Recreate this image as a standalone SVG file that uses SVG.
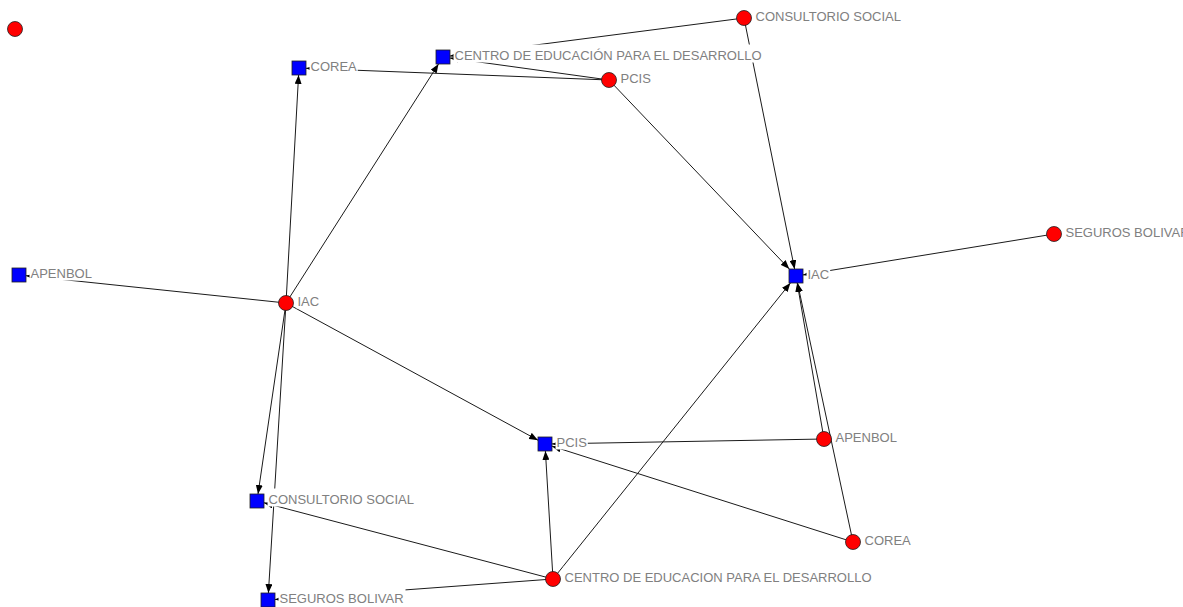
<svg xmlns="http://www.w3.org/2000/svg" width="1183" height="607" viewBox="0 0 1183 607">
<style>
.e{stroke:#1a1a1a;stroke-width:1;fill:none;marker-end:url(#ar)}
.c{fill:#ff0000;stroke:#202020;stroke-width:0.8}
.s{fill:#0000ff;stroke:#202020;stroke-width:0.8}
.bg{fill:#ffffff}
.t{font-family:"Liberation Sans",Arial,sans-serif;font-size:13px;fill:#808080}
</style>
<defs>
<marker id="ar" markerUnits="userSpaceOnUse" markerWidth="9" markerHeight="7" refX="9" refY="3.5" orient="auto">
<path d="M0,0 L9,3.5 L0,7 z" fill="#000"/>
</marker>
</defs>
<rect width="1183" height="607" fill="#ffffff"/>
<g id="connectors">
<line class="e" x1="286" y1="303" x2="298.6" y2="75"/>
<line class="e" x1="286" y1="303" x2="438.5" y2="64"/>
<line class="e" x1="286" y1="303" x2="26" y2="275.7"/>
<line class="e" x1="286" y1="303" x2="538" y2="440.2"/>
<line class="e" x1="286" y1="303" x2="258" y2="494"/>
<line class="e" x1="286" y1="303" x2="268.4" y2="593"/>
<line class="e" x1="609" y1="80" x2="306" y2="68.3"/>
<line class="e" x1="609" y1="80" x2="450" y2="58"/>
<line class="e" x1="609" y1="80" x2="789.3" y2="269"/>
<line class="e" x1="744" y1="18" x2="450" y2="56.1"/>
<line class="e" x1="744" y1="18" x2="794.6" y2="269"/>
<line class="e" x1="1054" y1="234" x2="803" y2="274.9"/>
<line class="e" x1="824" y1="439" x2="797.2" y2="283"/>
<line class="e" x1="824" y1="439" x2="552" y2="443.9"/>
<line class="e" x1="853" y1="542" x2="797.5" y2="283"/>
<line class="e" x1="853" y1="542" x2="552" y2="446.2"/>
<line class="e" x1="553" y1="579" x2="545.4" y2="451"/>
<line class="e" x1="553" y1="579" x2="790.4" y2="283"/>
<line class="e" x1="553" y1="579" x2="264" y2="502.8"/>
<line class="e" x1="553" y1="579" x2="275" y2="599.5"/>
</g>
<g id="node-isolated"><circle class="c" cx="15" cy="29" r="7.5"/></g>
<g id="node-corea-sq"><rect class="bg" x="309.5" y="55.5" width="48.2" height="18"/><text class="t" x="310.5" y="71">COREA</text><rect class="s" x="292" y="61" width="14" height="14"/></g>
<g id="node-centro-sq"><rect class="bg" x="453.5" y="44.5" width="311" height="18"/><text class="t" x="454.5" y="60">CENTRO DE EDUCACIÓN PARA EL DESARROLLO</text><rect class="s" x="436" y="50" width="14" height="14"/></g>
<g id="node-consultorio-c"><rect class="bg" x="754.5" y="5.5" width="148.6" height="18"/><text class="t" x="755.5" y="21">CONSULTORIO SOCIAL</text><circle class="c" cx="744" cy="18" r="7.5"/></g>
<g id="node-pcis-c"><rect class="bg" x="619.5" y="67.5" width="32.3" height="18"/><text class="t" x="620.5" y="83">PCIS</text><circle class="c" cx="609" cy="80" r="7.5"/></g>
<g id="node-iac-sq"><rect class="bg" x="806.5" y="263.5" width="23.7" height="18"/><text class="t" x="807.5" y="279">IAC</text><rect class="s" x="789" y="269" width="14" height="14"/></g>
<g id="node-seguros-c"><rect class="bg" x="1064.5" y="221.5" width="127" height="18"/><text class="t" x="1065.5" y="237">SEGUROS BOLIVAR</text><circle class="c" cx="1054" cy="234" r="7.5"/></g>
<g id="node-apenbol-sq"><rect class="bg" x="29.5" y="262.5" width="63.4" height="18"/><text class="t" x="30.5" y="278">APENBOL</text><rect class="s" x="12" y="268" width="14" height="14"/></g>
<g id="node-iac-c"><rect class="bg" x="296.5" y="290.5" width="23.7" height="18"/><text class="t" x="297.5" y="306">IAC</text><circle class="c" cx="286" cy="303" r="7.5"/></g>
<g id="node-pcis-sq"><rect class="bg" x="555.5" y="431.5" width="32.3" height="18"/><text class="t" x="556.5" y="447">PCIS</text><rect class="s" x="538" y="437" width="14" height="14"/></g>
<g id="node-apenbol-c"><rect class="bg" x="834.5" y="426.5" width="63.4" height="18"/><text class="t" x="835.5" y="442">APENBOL</text><circle class="c" cx="824" cy="439" r="7.5"/></g>
<g id="node-corea-c"><rect class="bg" x="863.5" y="529.5" width="48.2" height="18"/><text class="t" x="864.5" y="545">COREA</text><circle class="c" cx="853" cy="542" r="7.5"/></g>
<g id="node-consultorio-sq"><rect class="bg" x="267.5" y="488.5" width="148.6" height="18"/><text class="t" x="268.5" y="504">CONSULTORIO SOCIAL</text><rect class="s" x="250" y="494" width="14" height="14"/></g>
<g id="node-seguros-sq"><rect class="bg" x="278.5" y="587.5" width="127" height="18"/><text class="t" x="279.5" y="603">SEGUROS BOLIVAR</text><rect class="s" x="261" y="593" width="14" height="14"/></g>
<g id="node-centro-c"><rect class="bg" x="563.5" y="566.5" width="311" height="18"/><text class="t" x="564.5" y="582">CENTRO DE EDUCACION PARA EL DESARROLLO</text><circle class="c" cx="553" cy="579" r="7.5"/></g>
</svg>
